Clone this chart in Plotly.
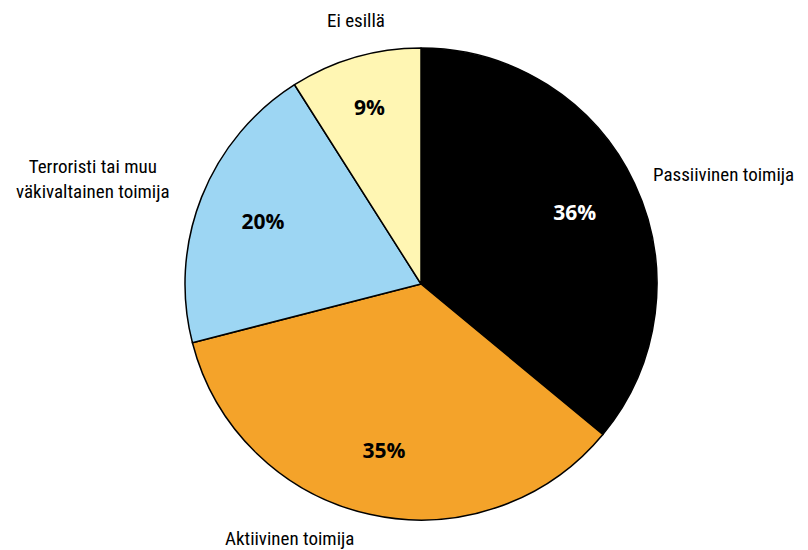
import plotly.graph_objects as go

# slices, clockwise from 12 o'clock
labels = ["Passiivinen toimija", "Aktiivinen toimija",
          "Terroristi tai muu<br>väkivaltainen toimija", "Ei esillä"]
values = [36, 35, 20, 9]
colors = ["#000000", "#F4A32A", "#9DD6F3", "#FFF6B3"]
text_colors = ["#FFFFFF", "#000000", "#000000", "#000000"]

W, H = 800, 542   # page body adds 8px margin
OFF = 8

def px(x):
    return (x - OFF) / W

def py(y):
    return 1 - (y - OFF) / H

cx, cy, r = 421, 284, 236
dom = dict(x=[px(cx - r), px(cx + r)], y=[py(cy + r), py(cy - r)])

label_font = "Roboto Condensed, Roboto, sans-serif"

fig = go.Figure()
fig.add_trace(go.Pie(
    labels=labels, values=values,
    sort=False, direction="clockwise", rotation=0,
    marker=dict(colors=colors, line=dict(color="#000000", width=1.5)),
    textinfo="none", domain=dom,
    showlegend=False, hoverinfo="label+value",
))
# transparent ring used only to place the percentage labels further out
fig.add_trace(go.Pie(
    labels=labels, values=values, hole=0.44,
    sort=False, direction="clockwise", rotation=0,
    marker=dict(colors=["rgba(0,0,0,0)"] * 4, line=dict(width=0)),
    texttemplate="<b>%{value}%</b>",
    textposition="inside", insidetextorientation="horizontal",
    insidetextfont=dict(family="Open Sans", size=21, color=text_colors),
    domain=dom, showlegend=False, hoverinfo="skip",
))

# outside labels
label_pos = [(651, 175, "left"), (289, 538, "center"),
             (93, 179, "center"), (356, 20, "center")]
for lab, (x, y, al) in zip(labels, label_pos):
    fig.add_annotation(
        text=lab, x=px(x), y=py(y), xref="paper", yref="paper",
        showarrow=False, align="center", xanchor=al, yanchor="middle",
        font=dict(family=label_font, size=19, color="#000000"),
    )

fig.update_layout(
    width=W, height=H,
    margin=dict(l=0, r=0, t=0, b=0),
    paper_bgcolor="#FFFFFF", plot_bgcolor="#FFFFFF",
)

fig.write_html("out.html")
